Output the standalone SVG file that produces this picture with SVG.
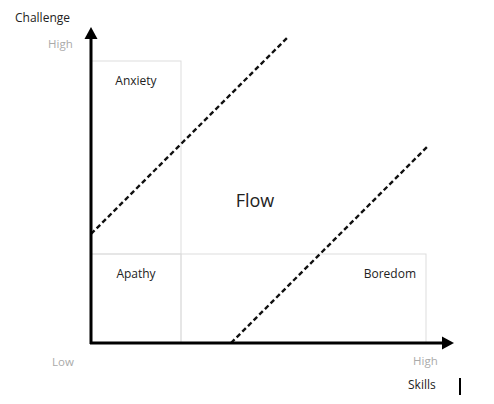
<svg xmlns="http://www.w3.org/2000/svg" width="494" height="404" viewBox="0 0 494 404">
<style>
.t{font-family:"Open Sans","Liberation Sans",sans-serif;font-size:12px;fill:#222}
.g{font-family:"Open Sans","Liberation Sans",sans-serif;font-size:11.5px;fill:#aaa}
.box{fill:none;stroke:#ddd;stroke-width:1}
.dash{stroke:#111;stroke-width:2.4;stroke-dasharray:5,3;fill:none}
.axis{stroke:#000;stroke-width:3;fill:none}
</style>
<rect width="494" height="404" fill="#fff"/>
<g id="regions">
<g id="anxiety"><rect class="box" x="91" y="61" width="90" height="193"/><text class="t" x="136" y="85" text-anchor="middle">Anxiety</text></g>
<g id="apathy"><rect class="box" x="91" y="254" width="90" height="89"/><text class="t" x="136" y="278" text-anchor="middle">Apathy</text></g>
<g id="boredom"><rect class="box" x="181" y="254" width="245" height="89"/><text class="t" x="416" y="278" text-anchor="end">Boredom</text></g>
<g id="flow"><text x="255" y="207" text-anchor="middle" style="font-family:'Open Sans','Liberation Sans',sans-serif;font-size:18px;fill:#222">Flow</text></g>
</g>
<g id="connectors">
<line class="dash" x1="91" y1="234" x2="287" y2="38"/>
<line class="dash" x1="231" y1="343" x2="427" y2="147"/>
<line class="axis" x1="91" y1="344" x2="91" y2="36"/>
<path d="M84.5,39 L91,27 L97.5,39 Z" fill="#000"/>
<line class="axis" x1="90" y1="343" x2="444" y2="343"/>
<path d="M442,336.5 L454,343 L442,349.5 Z" fill="#000"/>
</g>
<g id="labels">
<text class="t" x="15" y="22">Challenge</text>
<text class="g" x="48" y="48">High</text>
<text class="g" x="52" y="366">Low</text>
<text class="g" x="413" y="365">High</text>
<text class="t" x="408" y="389">Skills</text>
<line x1="460" y1="378" x2="460" y2="395" stroke="#000" stroke-width="2"/>
</g>
</svg>
